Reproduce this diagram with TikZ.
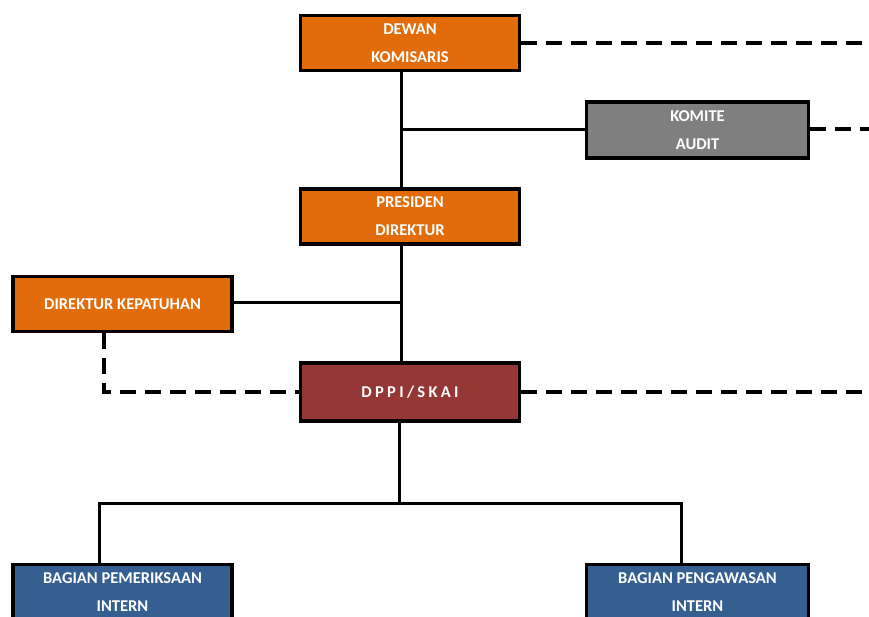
\documentclass[tikz,border=0pt]{standalone}
\usepackage{fontspec}
\setmainfont{Carlito}
\usepackage{xcolor}
\usetikzlibrary{calc}

\definecolor{jingga}{HTML}{E36C0A}
\definecolor{abu}{HTML}{7F7F7F}
\definecolor{merah}{HTML}{953735}
\definecolor{biru}{HTML}{365F91}

\begin{document}
\begin{tikzpicture}[x=1pt, y=-1pt,
    kotak/.style={draw=black, line width=3.5pt, text=white, font=\bfseries\fontsize{16.5}{28}\selectfont,
                  align=center, minimum width=219pt, minimum height=55pt, inner sep=0pt},
    garis/.style={line width=3pt},
    putus/.style={line width=3.5pt, dash pattern=on 16pt off 9pt}]

    \useasboundingbox (0,0) rectangle (869,616);

    % Définitions des boîtes
    \node[kotak, fill=jingga] (dewan) at (410,43) {DEWAN\\KOMISARIS};
    \node[kotak, fill=abu, minimum width=222pt, minimum height=56pt] (komite) at (697.5,130) {KOMITE\\AUDIT};
    \node[kotak, fill=jingga] (presiden) at (410,216.5) {PRESIDEN\\DIREKTUR};
    \node[kotak, fill=jingga] (kepatuhan) at (122.5,304) {DIREKTUR KEPATUHAN};
    \node[kotak, fill=merah, minimum height=58pt] (dppi) at (410,392)
        {\addfontfeature{LetterSpace=20}DPPI/SKAI};
    \node[kotak, fill=biru] (periksa) at (122.5,592) {BAGIAN PEMERIKSAAN\\INTERN};
    \node[kotak, fill=biru, minimum width=222pt] (awas) at (697.5,592) {BAGIAN PENGAWASAN\\INTERN};

    % Bouts libres à droite
    \coordinate (kanan1) at (869,43);
    \coordinate (kanan2) at (869,129);
    \coordinate (kanan3) at (869,392);

    % Définition des liaisons
    \draw[garis] ($(dewan.south)+(-9,0)$) -- ($(presiden.north)+(-9,0)$);
    \draw[garis] ($(presiden.south)+(-9,0)$) -- ($(dppi.north)+(-9,0)$);
    \draw[garis] (komite.west |- 0,129) -- (401,129);
    \draw[garis] (kepatuhan.east |- 0,302) -- (401,302);
    \draw[garis] ($(dppi.south)+(-11,0)$) -- (399,503);
    \draw[garis] (periksa.north -| 99,0) |- (399,503) -| (awas.north -| 681,0);

    \draw[putus] (dewan.east) -- (kanan1);
    \draw[putus] (komite.east |- kanan2) -- (kanan2);
    \draw[putus] (dppi.east) -- (kanan3);
    \draw[putus] (kepatuhan.south -| 104,0) |- (dppi.west);

\end{tikzpicture}
\end{document}
